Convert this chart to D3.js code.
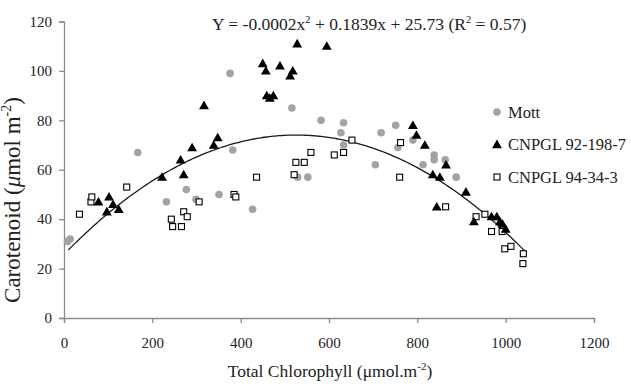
<!DOCTYPE html>
<html><head><meta charset="utf-8">
<script src="https://cdn.jsdelivr.net/npm/d3@7"></script>
<style>
html,body{margin:0;padding:0;background:#fff;}
svg{display:block;font-family:"Liberation Serif","Times New Roman",serif;}
</style></head>
<body>
<svg id="chart" width="631" height="384"></svg>
<script>
// ---- data ----
const mottX = [8,14,167,232,277,299,351,376,382,427,516,529,552,582,627,633,633,705,718,751,756,790,813,838,838,863,888];
const mottY = [31,32,67,47,52,48,50,99,68,44,85,57,57,80,75,79,70,62,75,78,69,72,62,66,64,64,57];
const cn92X = [78,97,102,111,124,222,264,271,290,317,339,348,450,457,459,466,474,489,512,518,528,595,790,798,817,835,844,851,865,910,928,968,980,987,993,1000];
const cn92Y = [47,43,49,46,44,57,64,58,69,86,70,73,103,100,90,89,90,102,98,100,111,110,78,74,70,58,45,57,62,51,39,41,41,39,38,36];
const cn94X = [35,61,63,142,243,246,266,271,279,306,385,389,436,521,525,544,559,612,633,652,760,762,864,933,953,968,992,998,1012,1039,1040];
const cn94Y = [42,47,49,53,40,37,37,43,41,47,50,49,57,58,63,63,67,66,67,72,57,71,45,41,42,35,35,28,29,22,26];
const seriesNames = ["Mott","CNPGL 92-198-7","CNPGL 94-34-3"];
const xTicks = [0,200,400,600,800,1000,1200];
const yTicks = [0,20,40,60,80,100,120];
// fitted quadratic trend (coefficients as plotted)
const fitA = -0.000175, fitB = 0.1839, fitC = 25.73;
const fitRange = [10, 1048];

// ---- layout ----
const svg = d3.select("#chart");
const x = d3.scaleLinear().domain([0,1200]).range([64,594]);
const y = d3.scaleLinear().domain([0,120]).range([318,21.5]);
const axisCol = "#8c8c8c";

// axes
const gx = svg.append("g").attr("transform","translate(0,318)")
  .call(d3.axisBottom(x).tickValues(xTicks).tickSize(5).tickPadding(14).tickFormat(d3.format("d")));
const gy = svg.append("g").attr("transform","translate(64,0)")
  .call(d3.axisLeft(y).tickValues(yTicks).tickSize(5).tickPadding(7).tickFormat(d3.format("d")));
[gx,gy].forEach(g=>{
  g.attr("font-family",null);
  g.select(".domain").attr("stroke",axisCol).attr("stroke-width",1.3);
  g.selectAll(".tick line").attr("stroke",axisCol).attr("stroke-width",1.3);
  g.selectAll(".tick text").attr("fill","#222").style("font-size","15px").style("font-family","'Liberation Serif',serif");
});

// trend curve
const curvePts = d3.range(fitRange[0], fitRange[1]+1, 4).map(v=>[v, fitA*v*v + fitB*v + fitC]);
svg.append("path").datum(curvePts)
  .attr("fill","none").attr("stroke","#1a1a1a").attr("stroke-width",1.3)
  .attr("d", d3.line().x(d=>x(d[0])).y(d=>y(d[1])));

// markers
const tri = d3.symbol().type(d3.symbolTriangle).size(42);
function drawMott(g, px, py){ g.append("circle").attr("cx",px).attr("cy",py).attr("r",3.8).attr("fill","#a3a3a3"); }
function drawTri(g, px, py){ g.append("path").attr("d",tri()).attr("transform",`translate(${px},${py+0.8})`).attr("fill","#000"); }
function drawSq(g, px, py){ g.append("rect").attr("x",px-3).attr("y",py-3).attr("width",6).attr("height",6).attr("fill","#fff").attr("stroke","#000").attr("stroke-width",1.1); }

const gm = svg.append("g");
mottX.forEach((v,i)=>drawMott(gm, x(v), y(mottY[i])));
const gs = svg.append("g");
cn94X.forEach((v,i)=>drawSq(gs, x(v), y(cn94Y[i])));
const gt = svg.append("g");
cn92X.forEach((v,i)=>drawTri(gt, x(v), y(cn92Y[i])));

// legend
const lg = svg.append("g");
const legY = [112,144.5,177];
const drawers = [drawMott, drawTri, drawSq];
seriesNames.forEach((n,i)=>{
  drawers[i](lg, 497, legY[i]);
  lg.append("text").attr("x",508).attr("y",legY[i]).attr("dy","0.35em")
    .style("font-size","16.5px").attr("fill","#222").text(n);
});

// equation
const eq = svg.append("text").attr("x",212).attr("y",30).style("font-size","17.5px").attr("fill","#222");
eq.append("tspan").text("Y = -0.0002x");
eq.append("tspan").attr("dy",-7).style("font-size","10.5px").text("2");
eq.append("tspan").attr("dy",7).text(" + 0.1839x + 25.73 (R");
eq.append("tspan").attr("dy",-7).style("font-size","10.5px").text("2");
eq.append("tspan").attr("dy",7).text(" = 0.57)");

// x label
const xl = svg.append("text").attr("x",330).attr("y",377).attr("text-anchor","middle")
  .style("font-size","17.5px").attr("fill","#222");
xl.append("tspan").text("Total Chlorophyll (μmol.m");
xl.append("tspan").attr("dy",-7).style("font-size","11px").text("-2");
xl.append("tspan").attr("dy",7).text(")");

// y label
const yl = svg.append("text").attr("transform","translate(20,200) rotate(-90)").attr("text-anchor","middle")
  .style("font-size","23px").attr("fill","#222");
yl.append("tspan").text("Carotenoid (");
yl.append("tspan").style("font-style","italic").text("μ");
yl.append("tspan").text("mol m");
yl.append("tspan").attr("dy",-9).style("font-size","14px").text("-2");
yl.append("tspan").attr("dy",9).text(")");
</script>
</body></html>
